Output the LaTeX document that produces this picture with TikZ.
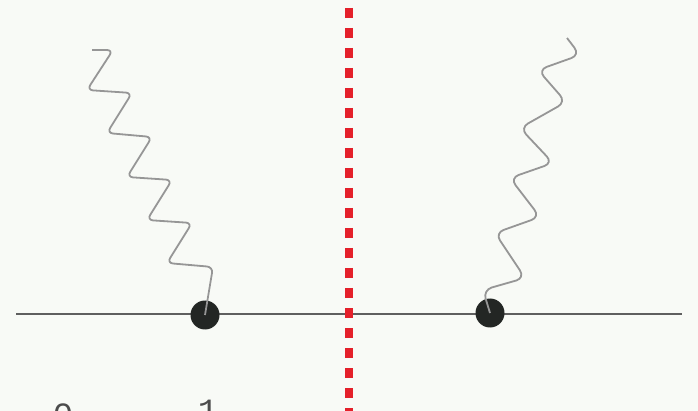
\documentclass[tikz,border=0pt]{standalone}
\usepackage{fontspec}
\setmonofont{Liberation Mono}
\definecolor{bgc}{RGB}{248,250,246}
\definecolor{photonc}{RGB}{150,150,150}
\definecolor{linec}{RGB}{95,95,95}
\definecolor{dotc}{RGB}{35,38,36}
\definecolor{redc}{RGB}{228,32,42}
\begin{document}
\begin{tikzpicture}[x=1pt,y=-1pt,
  photon/.style={draw=photonc,line width=1.8pt,rounded corners=6pt},
  axisline/.style={draw=linec,line width=1.6pt},
  vertex/.style={circle,fill=dotc,minimum size=29pt,inner sep=0pt},
  cut/.style={draw=redc,line width=8pt,dash pattern=on 10pt off 10pt},
  lbl/.style={font=\ttfamily\fontsize{34}{34}\selectfont,text=black!70,anchor=north,inner sep=0pt}]
\fill[bgc] (0,0) rectangle (698,411);
\useasboundingbox (0,0) rectangle (698,411);
\coordinate (la) at (16,314);
\coordinate (lb) at (682,314);
\draw[axisline] (la) -- (lb);
\coordinate (ct) at (349,8);
\coordinate (cb) at (349,420);
\draw[cut] (ct) -- (cb);
\node[vertex] (v1) at (205,315) {};
\node[vertex] (v2) at (490,313) {};
\draw[photon] (92,50) -- (113,50) -- (87,90) -- (132,93) -- (107,133) -- (152,137)
  -- (127,177) -- (172,180) -- (147,220) -- (192,223) -- (167,263) -- (213,267) -- (v1.center);
\draw[photon,rounded corners=9pt] (567,38) -- (580,55) -- (538,70) -- (566,102) -- (520,128)
  -- (553,163) -- (510,178) -- (540,217) -- (495,233) -- (525,278) -- (483,290) -- (v2.center);
\node[lbl] (n0) at (63,404) {0};
\node[lbl] (n1) at (208,400) {1};
\end{tikzpicture}
\end{document}
